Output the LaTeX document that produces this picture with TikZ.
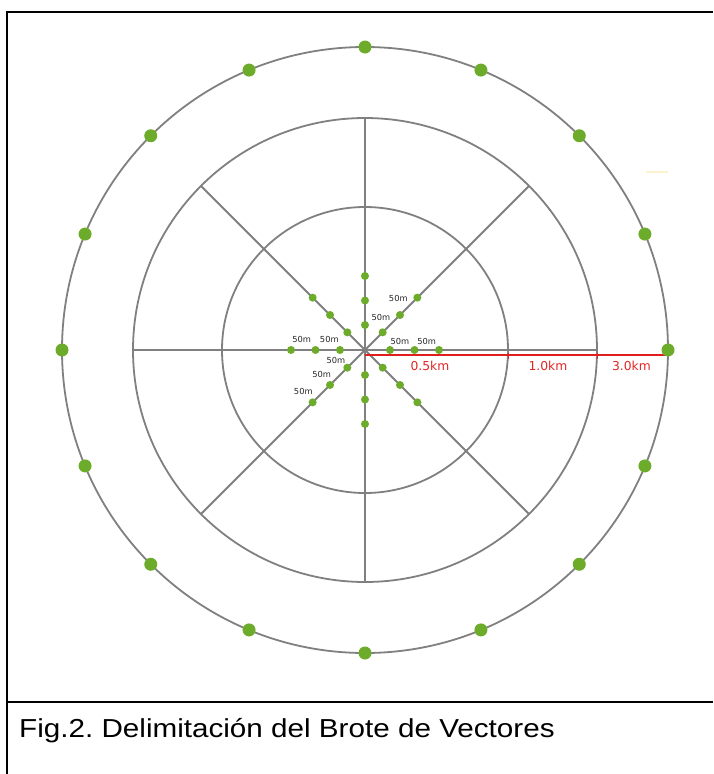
\documentclass[tikz,border=0pt]{standalone}
\usepackage{fontspec}
\setmainfont{Liberation Sans}
\newfontfamily\dejavu{DejaVu Sans}
\definecolor{ringgray}{RGB}{128,128,128}
\definecolor{dotgreen}{RGB}{108,172,42}
\definecolor{labelred}{RGB}{226,38,38}
\definecolor{dotred}{RGB}{225,30,30}
\definecolor{faintyellow}{RGB}{252,242,205}
\frenchspacing
\begin{document}
\begin{tikzpicture}[x=1pt,y=-1pt,
  ring/.style={draw=ringgray,line width=1.8pt},
  spoke/.style={draw=ringgray,line width=2pt},
  bigdot/.style={fill=dotgreen},
  smalldot/.style={fill=dotgreen},
  frameline/.style={draw=black,line width=2pt},
  meters/.style={font=\dejavu\fontsize{8.3}{9}\selectfont,text=black!85,inner sep=0pt},
  kmlabel/.style={font=\dejavu\fontsize{12.3}{14}\selectfont,text=labelred,inner sep=0pt},
  reddot/.style={fill=dotred}]
\useasboundingbox (0,0) rectangle (713,774);
\fill[white] (0,0) rectangle (713,774);
% frame
\draw[frameline] (7,774) -- (7,12) -- (713,12);
\draw[frameline] (7,702) -- (713,702);
% rings
\coordinate (c) at (365,350);
\draw[ring] (c) circle[radius=303];
\draw[ring] (c) circle[radius=232];
\draw[ring] (c) circle[radius=143];
\foreach \a in {0,45,...,315} \draw[spoke] (c) -- ++(\a:232);
% red dotted distance line
\coordinate (r0) at (365,354.5);
\coordinate (r3) at (668,354.5);
\foreach \x in {365,367,...,667} \fill[reddot] (\x,354.4) rectangle ++(1.5,2);
\fill[labelred] (507.5,352.5) rectangle (508.7,358.5);
\fill[labelred] (596.5,352.5) rectangle (597.7,358.5);
% outer dots
\foreach \a in {0,22.5,...,337.5} \fill[bigdot] (c) ++(\a:303) circle[radius=6.5];
% inner dots
\foreach \a in {0,45,...,315} {
  \foreach \r in {25,49.5,74} \fill[smalldot] (c) ++(\a:\r) circle[radius=4];
}
% 50m labels
\node[meters] (m1) at (398.3,298.3) {50m};
\node[meters] (m2) at (381,317.7) {50m};
\node[meters] (m3) at (400,341) {50m};
\node[meters] (m4) at (426.7,341) {50m};
\node[meters] (m5) at (301.7,339.3) {50m};
\node[meters] (m6) at (329.3,339.3) {50m};
\node[meters] (m7) at (336,360) {50m};
\node[meters] (m8) at (321.7,374.3) {50m};
\node[meters] (m9) at (303.3,391.7) {50m};
% km labels
\node[kmlabel] (k1) at (430,366) {0.5km};
\node[kmlabel] (k2) at (548,366) {1.0km};
\node[kmlabel] (k3) at (631.5,366) {3.0km};
% faint artefact
\draw[draw=faintyellow,line width=1.5pt] (646,172) -- (668,172);
% caption
\node[anchor=base west,font=\fontsize{26}{30}\selectfont,xscale=1.14,inner sep=0pt] (cap) at (19,737) {Fig.2. Delimitación del Brote de Vectores};
\end{tikzpicture}
\end{document}
